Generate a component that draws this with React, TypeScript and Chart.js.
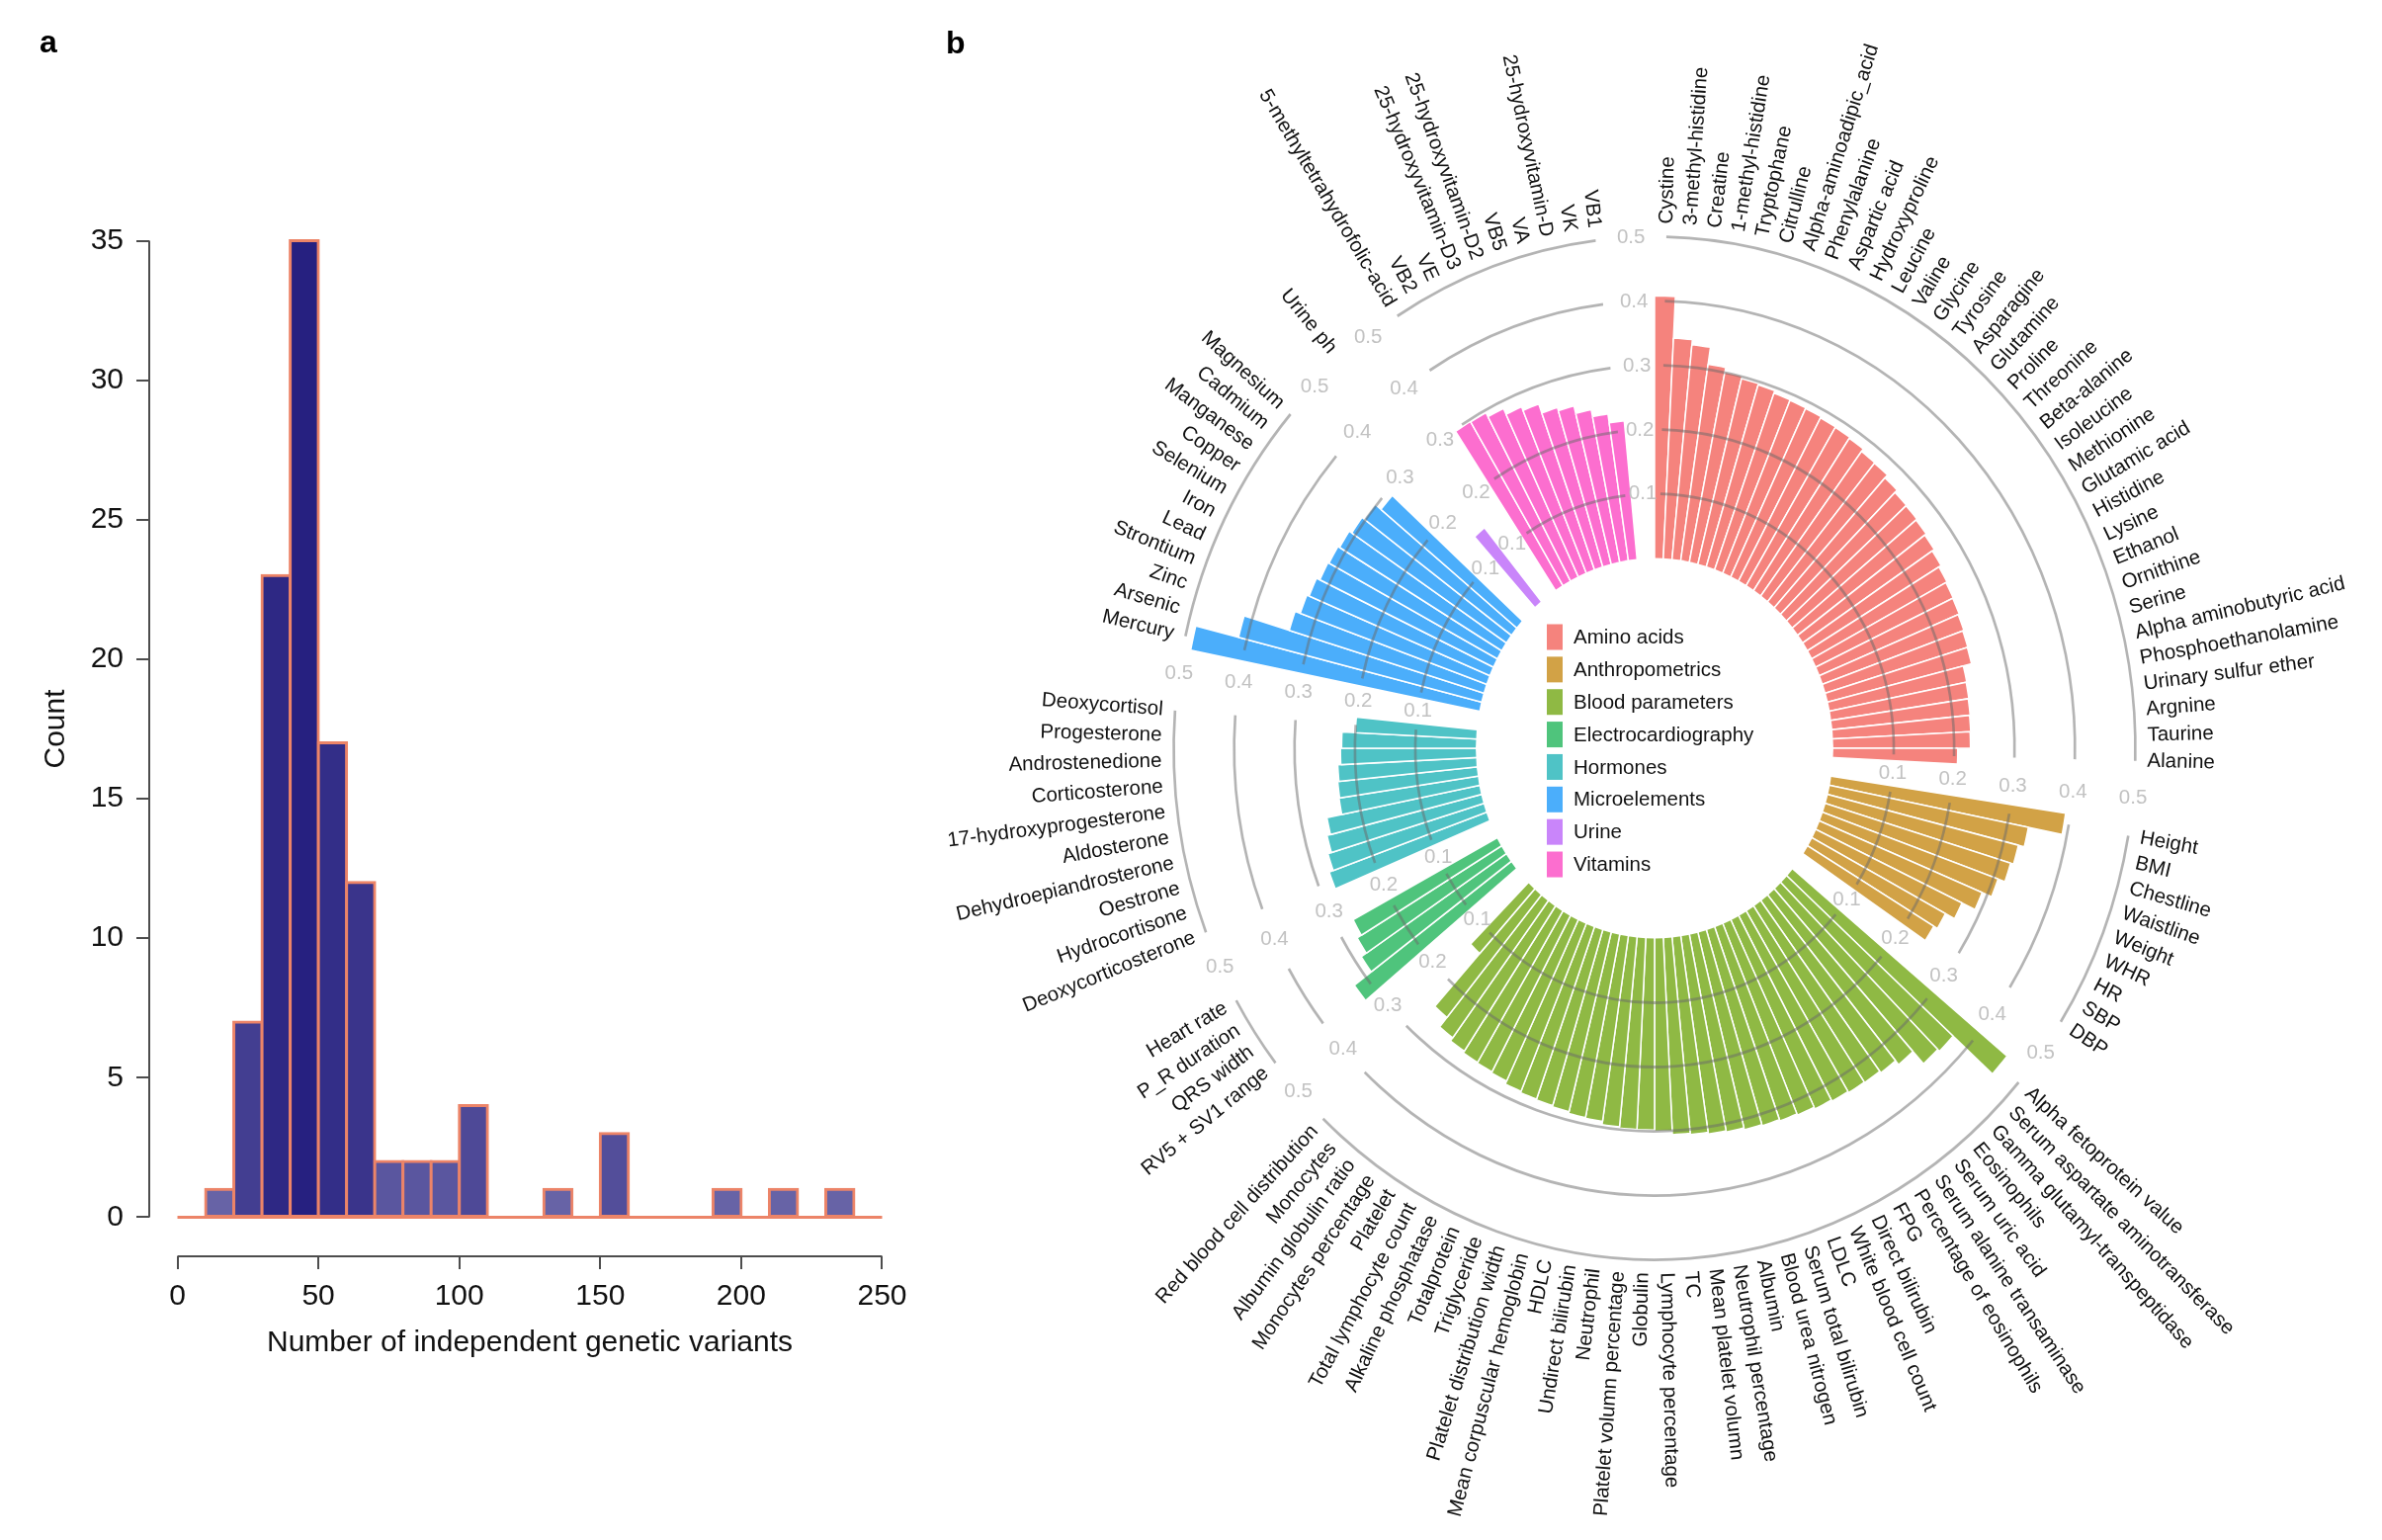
import React, { useEffect, useRef } from "react";
import { Chart, registerables } from "chart.js";

Chart.register(...registerables);

const FONT = '"Liberation Sans", Arial, Helvetica, sans-serif';

// ---------- Panel a: histogram data ----------
const BIN_EDGES = [0, 10, 20, 30, 40, 50, 60, 70, 80, 90, 100, 110, 120, 130, 140, 150, 160, 170, 180, 190, 200, 210, 220, 230, 240, 250];
const BIN_COUNTS = [0, 1, 7, 23, 35, 17, 12, 2, 2, 2, 4, 0, 0, 1, 0, 3, 0, 0, 0, 1, 0, 1, 0, 1, 0];
const HIST_X_TICKS = [0, 50, 100, 150, 200, 250];
const HIST_Y_TICKS = [0, 5, 10, 15, 20, 25, 30, 35];
const HIST_X_TITLE = "Number of independent genetic variants";
const HIST_Y_TITLE = "Count";

// ---------- Panel b: circular bar chart data ----------
const GROUP_NAMES = ["Amino acids", "Anthropometrics", "Blood parameters", "Electrocardiography", "Hormones", "Microelements", "Urine", "Vitamins"];
const GROUP_COLORS = ["#F5837D", "#D2A246", "#8FB944", "#4FC47C", "#4FC3C6", "#4BAEFB", "#C985FA", "#FC6ECF"];

const AMINO_LABELS = ["Cystine", "3-methyl-histidine", "Creatine", "1-methyl-histidine", "Tryptophane", "Citrulline", "Alpha-aminoadipic_acid", "Phenylalanine", "Aspartic acid", "Hydroxyproline", "Leucine", "Valine", "Glycine", "Tyrosine", "Asparagine", "Glutamine", "Proline", "Threonine", "Beta-alanine", "Isoleucine", "Methionine", "Glutamic acid", "Histidine", "Lysine", "Ethanol", "Ornithine", "Serine", "Alpha aminobutyric acid", "Phosphoethanolamine", "Urinary sulfur ether", "Argnine", "Taurine", "Alanine"];
const AMINO_VALUES = [0.408, 0.343, 0.335, 0.308, 0.301, 0.297, 0.295, 0.291, 0.29, 0.289, 0.287, 0.286, 0.284, 0.279, 0.278, 0.272, 0.267, 0.266, 0.264, 0.261, 0.257, 0.253, 0.251, 0.25, 0.248, 0.246, 0.245, 0.231, 0.23, 0.229, 0.228, 0.227, 0.206];

const ANTHRO_LABELS = ["Height", "BMI", "Chestline", "Waistline", "Weight", "WHR", "HR", "SBP", "DBP"];
const ANTHRO_VALUES = [0.392, 0.335, 0.325, 0.32, 0.308, 0.291, 0.267, 0.25, 0.243];

const BLOOD_LABELS = ["Alpha fetoprotein value", "Serum aspartate aminotransferase", "Gamma glutamyl-transpeptidase", "Eosinophils", "Serum uric acid", "Serum alanine transaminase", "Percentage of eosinophils", "FPG", "Direct bilirubin", "White blood cell count", "LDLC", "Serum total bilirubin", "Blood urea nitrogen", "Albumin", "Neutrophil percentage", "Mean platelet volumn", "TC", "Lymphocyte percentage", "Globulin", "Platelet volumn percentage", "Neutrophil", "Undirect bilirubin", "HDLC", "Mean corpuscular hemoglobin", "Platelet distribution width", "Triglyceride", "Totalprotein", "Alkaline phosphatase", "Total lymphocyte count", "Platelet", "Monocytes percentage", "Albumin globulin ratio", "Monocytes", "Red blood cell distribution"];
const BLOOD_VALUES = [0.459, 0.371, 0.367, 0.341, 0.333, 0.33, 0.329, 0.327, 0.325, 0.322, 0.32, 0.318, 0.316, 0.313, 0.311, 0.308, 0.306, 0.3, 0.298, 0.298, 0.296, 0.291, 0.29, 0.287, 0.285, 0.284, 0.282, 0.277, 0.275, 0.274, 0.271, 0.265, 0.246, 0.135];

const ECG_LABELS = ["RV5 + SV1 range", "QRS width", "P_R duration", "Heart rate"];
const ECG_VALUES = [0.323, 0.288, 0.278, 0.27];

const HORMONE_LABELS = ["Deoxycorticosterone", "Hydrocortisone", "Oestrone", "Dehydroepiandrosterone", "Aldosterone", "17-hydroxyprogesterone", "Corticosterone", "Androstenedione", "Progesterone", "Deoxycortisol"];
const HORMONE_VALUES = [0.276, 0.269, 0.263, 0.257, 0.232, 0.231, 0.229, 0.224, 0.222, 0.2];

const MICRO_LABELS = ["Mercury", "Arsenic", "Zinc", "Strontium", "Lead", "Iron", "Selenium", "Copper", "Manganese", "Cadmium", "Magnesium"];
const MICRO_VALUES = [0.487, 0.414, 0.336, 0.327, 0.323, 0.317, 0.315, 0.312, 0.307, 0.302, 0.29];

const URINE_LABELS = ["Urine ph"];
const URINE_VALUES = [0.148];

const VITAMIN_LABELS = ["5-methyltetrahydrofolic-acid", "VB2", "VE", "25-hydroxyvitamin-D3", "25-hydroxyvitamin-D2", "VB5", "VA", "25-hydroxyvitamin-D", "VK", "VB1"];
const VITAMIN_VALUES = [0.297, 0.296, 0.289, 0.279, 0.273, 0.258, 0.253, 0.241, 0.23, 0.216];

const RADIAL_TICKS = [0.1, 0.2, 0.3, 0.4, 0.5];

// ---------- layout constants ----------
const GAP_SLOTS = 2;
const LABEL_AT = 0.52;
const R_MIN = -0.296154;
const R_MAX = 0.836154;
const SQUEEZE = 0.94;
const ORANGE = "#EC8468";
const HIST_FONT = 30;

function Histogram() {
  const ref = useRef<HTMLCanvasElement>(null);
  useEffect(() => {
    const centers = BIN_COUNTS.map((_, i) => (BIN_EDGES[i] + BIN_EDGES[i + 1]) / 2);
    const maxC = Math.max(...BIN_COUNTS);
    const fillFor = (v: number) => {
      if (!v) return "rgba(0,0,0,0)";
      const a = 0.7 + (0.3 * Math.log(v)) / Math.log(maxC);
      const mix = (c: number) => Math.round(255 - a * (255 - c));
      return `rgb(${mix(38)},${mix(32)},${mix(128)})`;
    };
    const axesPlugin = {
      id: "rStyleAxes",
      afterDraw(chart: any) {
        const { ctx, chartArea } = chart;
        const x = chart.scales.x;
        const y = chart.scales.y;
        ctx.save();
        ctx.strokeStyle = "#4d4d4d";
        ctx.lineWidth = 2;
        ctx.beginPath();
        ctx.moveTo(chartArea.left, y.getPixelForValue(HIST_Y_TICKS[0]));
        ctx.lineTo(chartArea.left, y.getPixelForValue(HIST_Y_TICKS[HIST_Y_TICKS.length - 1]));
        ctx.moveTo(x.getPixelForValue(HIST_X_TICKS[0]), chartArea.bottom);
        ctx.lineTo(x.getPixelForValue(HIST_X_TICKS[HIST_X_TICKS.length - 1]), chartArea.bottom);
        ctx.stroke();
        ctx.restore();
      },
    };
    const chart = new Chart(ref.current as HTMLCanvasElement, {
      type: "bar",
      data: {
        datasets: [
          {
            type: "line",
            data: [
              { x: BIN_EDGES[0], y: 0 },
              { x: BIN_EDGES[BIN_EDGES.length - 1], y: 0 },
            ],
            borderColor: ORANGE,
            borderWidth: 3,
            pointRadius: 0,
            order: 2,
          } as any,
          {
            type: "bar",
            data: centers.map((c, i) => ({ x: c, y: BIN_COUNTS[i] })),
            backgroundColor: (c: any) => fillFor(c.raw ? c.raw.y : 0),
            borderColor: ORANGE,
            borderWidth: 3,
            borderSkipped: false,
            inflateAmount: 1.5,
            barPercentage: 1,
            categoryPercentage: 1,
            order: 1,
          } as any,
        ],
      },
      options: {
        animation: false,
        responsive: true,
        maintainAspectRatio: false,
        layout: { padding: { left: 0, right: 39, top: 204, bottom: 181 } },
        plugins: { legend: { display: false }, tooltip: { enabled: false } },
        scales: {
          x: {
            type: "linear",
            min: -10,
            max: 260,
            offset: false,
            afterBuildTicks: (s: any) => {
              s.ticks = HIST_X_TICKS.map((v) => ({ value: v }));
            },
            afterFit: (s: any) => {
              s.height = 106;
            },
            grid: { display: true, drawOnChartArea: false, drawTicks: true, tickLength: 13, color: "#4d4d4d", lineWidth: 2, offset: false },
            border: { display: false },
            ticks: { font: { family: FONT, size: HIST_FONT }, color: "#111", padding: 10, maxRotation: 0, autoSkip: false },
            title: { display: true, text: HIST_X_TITLE, font: { family: FONT, size: HIST_FONT }, color: "#111", padding: { top: 0, bottom: 0 } },
          },
          y: {
            type: "linear",
            min: -1.4,
            max: 36.4,
            afterBuildTicks: (s: any) => {
              s.ticks = HIST_Y_TICKS.map((v) => ({ value: v }));
            },
            afterFit: (s: any) => {
              s.width = 151;
            },
            grid: { display: true, drawOnChartArea: false, drawTicks: true, tickLength: 13, color: "#4d4d4d", lineWidth: 2 },
            border: { display: false },
            ticks: { font: { family: FONT, size: HIST_FONT }, color: "#111", padding: 13, autoSkip: false },
            title: { display: true, text: HIST_Y_TITLE, font: { family: FONT, size: HIST_FONT }, color: "#111", padding: { top: 39, bottom: 0 } },
          },
        },
      } as any,
      plugins: [axesPlugin],
    });
    return () => chart.destroy();
  }, []);
  return <canvas ref={ref} />;
}

function CircularBars() {
  const ref = useRef<HTMLCanvasElement>(null);
  useEffect(() => {
    const groups = [
      { labels: AMINO_LABELS, values: AMINO_VALUES },
      { labels: ANTHRO_LABELS, values: ANTHRO_VALUES },
      { labels: BLOOD_LABELS, values: BLOOD_VALUES },
      { labels: ECG_LABELS, values: ECG_VALUES },
      { labels: HORMONE_LABELS, values: HORMONE_VALUES },
      { labels: MICRO_LABELS, values: MICRO_VALUES },
      { labels: URINE_LABELS, values: URINE_VALUES },
      { labels: VITAMIN_LABELS, values: VITAMIN_VALUES },
    ];
    const slotLabels: string[] = [];
    const slotValues: number[] = [];
    const slotColors: string[] = [];
    const slotGroup: number[] = [];
    const ranges: { first: number; last: number }[] = [];
    groups.forEach((g, gi) => {
      const first = slotLabels.length;
      g.labels.forEach((lab, i) => {
        slotLabels.push(lab);
        slotValues.push(g.values[i]);
        slotColors.push(GROUP_COLORS[gi]);
        slotGroup.push(gi);
      });
      ranges.push({ first, last: slotLabels.length - 1 });
      for (let k = 0; k < GAP_SLOTS; k++) {
        slotLabels.push("");
        slotValues.push(0);
        slotColors.push("rgba(0,0,0,0)");
        slotGroup.push(-1);
      }
    });
    const N = slotLabels.length;

    const plugin = {
      id: "circularDecor",
      beforeDatasetsDraw(chart: any) {
        const s = chart.scales.r;
        const ctx = chart.ctx;
        ctx.save();
        ctx.translate(s.xCenter, s.yCenter);
        ctx.scale(SQUEEZE, 1);
        ctx.translate(-s.xCenter, -s.yCenter);
      },
      afterDatasetsDraw(chart: any) {
        const s = chart.scales.r;
        const ctx = chart.ctx;
        const meta = chart.getDatasetMeta(0);
        const cx = s.xCenter;
        const cy = s.yCenter;
        ctx.strokeStyle = "rgba(105,105,105,0.5)";
        ctx.lineWidth = 2.8;
        ranges.forEach(({ first, last }) => {
          const a0 = (meta.data[first].startAngle + meta.data[first].endAngle) / 2;
          const a1 = (meta.data[last].startAngle + meta.data[last].endAngle) / 2;
          if (a1 <= a0) return;
          RADIAL_TICKS.forEach((v) => {
            ctx.beginPath();
            ctx.arc(cx, cy, s.getDistanceFromCenterForValue(v), a0, a1);
            ctx.stroke();
          });
        });
        ctx.fillStyle = "#ffffff";
        ctx.beginPath();
        ctx.arc(cx, cy, s.getDistanceFromCenterForValue(0), 0, Math.PI * 2);
        ctx.fill();
        ctx.restore();
      },
      afterDraw(chart: any) {
        const s = chart.scales.r;
        const ctx = chart.ctx;
        const meta = chart.getDatasetMeta(0);
        const cx = s.xCenter;
        const cy = s.yCenter;
        const pt = (ang: number, r: number) => [cx + SQUEEZE * r * Math.cos(ang), cy + r * Math.sin(ang)];
        ctx.save();
        ctx.font = `20.5px ${FONT}`;
        ctx.textBaseline = "middle";
        // value labels in every gap
        ctx.fillStyle = "#c2c2c2";
        ctx.textAlign = "center";
        ranges.forEach(({ first }) => {
          const gapIdx = (first - 1 + N) % N;
          const ang = meta.data[gapIdx].startAngle;
          RADIAL_TICKS.forEach((v) => {
            const [x, y] = pt(ang, s.getDistanceFromCenterForValue(v));
            ctx.fillText(v.toFixed(1), x, y);
          });
        });
        // bar labels
        ctx.fillStyle = "#111111";
        const rl = s.getDistanceFromCenterForValue(LABEL_AT);
        for (let i = 0; i < N; i++) {
          if (slotGroup[i] < 0) continue;
          const el = meta.data[i];
          const mid = (el.startAngle + el.endAngle) / 2;
          const [x, y] = pt(mid, rl);
          const phi = Math.atan2(Math.sin(mid), SQUEEZE * Math.cos(mid));
          ctx.save();
          ctx.translate(x, y);
          if (Math.cos(mid) >= 0) {
            ctx.rotate(phi);
            ctx.textAlign = "left";
          } else {
            ctx.rotate(phi + Math.PI);
            ctx.textAlign = "right";
          }
          ctx.fillText(slotLabels[i], 0, 0);
          ctx.restore();
        }
        // legend in the hole
        const rowStep = 32.86;
        const top = cy - 112.5;
        ctx.textAlign = "left";
        GROUP_NAMES.forEach((name, gi) => {
          const yy = top + gi * rowStep;
          ctx.fillStyle = GROUP_COLORS[gi];
          ctx.fillRect(cx - 109, yy - 13, 16, 26);
          ctx.fillStyle = "#111111";
          ctx.fillText(name, cx - 82, yy + 1);
        });
        ctx.restore();
      },
    };

    const chart = new Chart(ref.current as HTMLCanvasElement, {
      type: "polarArea",
      data: {
        labels: slotLabels,
        datasets: [
          {
            data: slotValues,
            backgroundColor: slotColors,
            borderColor: slotGroup.map((g) => (g < 0 ? "rgba(0,0,0,0)" : "#ffffff")),
            borderWidth: 1.6,
          },
        ],
      },
      options: {
        animation: false,
        responsive: true,
        maintainAspectRatio: false,
        layout: { padding: { left: 38, right: 0, top: 0, bottom: 43 } },
        plugins: { legend: { display: false }, tooltip: { enabled: false } },
        scales: {
          r: {
            min: R_MIN,
            max: R_MAX,
            ticks: { display: false },
            grid: { display: false },
            angleLines: { display: false },
            pointLabels: { display: false },
          },
        },
      } as any,
      plugins: [plugin],
    });
    return () => chart.destroy();
  }, []);
  return <canvas ref={ref} />;
}

export default function App() {
  const panelLabel: React.CSSProperties = {
    position: "absolute",
    fontFamily: FONT,
    fontWeight: "bold",
    fontSize: 32,
    lineHeight: "normal",
    color: "#000",
  };
  return (
    <div style={{ position: "fixed", left: 0, top: 0, width: 2410, height: 1558, background: "#fff", overflow: "hidden" }}>
      <div style={{ position: "absolute", left: 0, top: 0, width: 960, height: 1558 }}>
        <Histogram />
      </div>
      <div style={{ position: "absolute", left: 900, top: 0, width: 1510, height: 1558 }}>
        <CircularBars />
      </div>
      <div style={{ ...panelLabel, left: 40, top: 24 }}>a</div>
      <div style={{ ...panelLabel, left: 957, top: 25 }}>b</div>
    </div>
  );
}
